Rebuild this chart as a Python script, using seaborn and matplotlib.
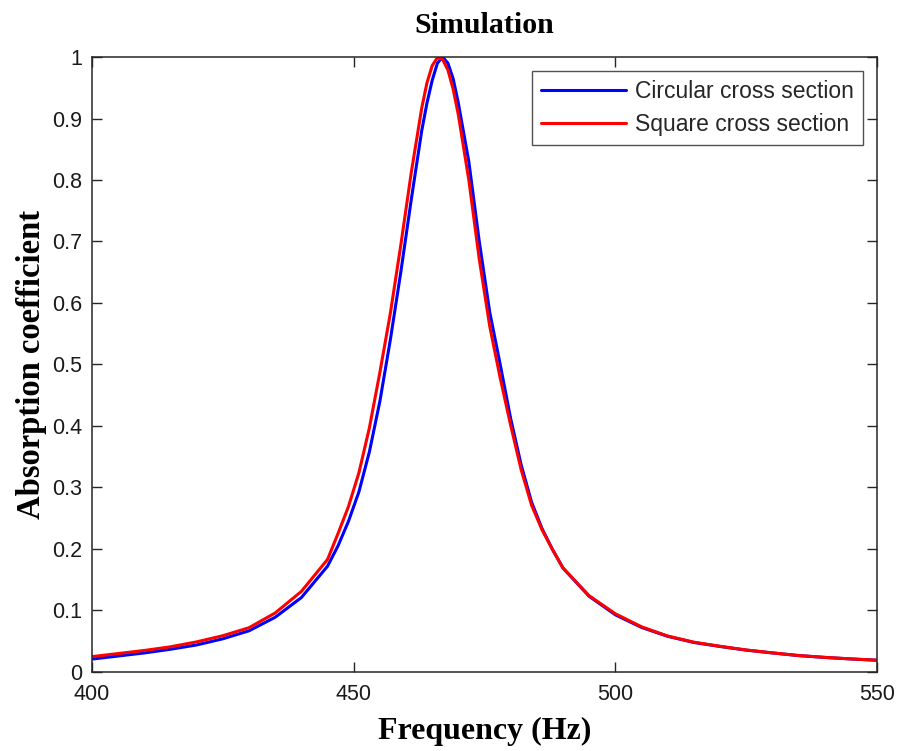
import matplotlib
matplotlib.use("Agg")
import matplotlib.pyplot as plt
import seaborn as sns
import pandas as pd
from matplotlib.ticker import FixedLocator, FixedFormatter

# Frequency samples (Hz): coarse in the tails, finer around the resonance
freq = [400, 405, 410, 415, 420, 425, 430, 435, 440, 445,
        447, 449, 451, 453, 455, 457, 459, 461, 463, 464,
        465, 466, 467, 468, 469, 470, 472, 474, 476, 478,
        480, 482, 484, 486, 488, 490, 495, 500, 505, 510,
        515, 520, 525, 530, 535, 540, 545, 550]

circular = [0.021, 0.026, 0.031, 0.037, 0.044, 0.054, 0.067, 0.089, 0.121, 0.172,
            0.205, 0.245, 0.293, 0.358, 0.440, 0.540, 0.650, 0.768, 0.880, 0.925,
            0.962, 0.990, 1.000, 0.990, 0.965, 0.925, 0.830, 0.700, 0.585, 0.500,
            0.412, 0.337, 0.276, 0.233, 0.199, 0.169, 0.123, 0.093, 0.0725, 0.058,
            0.048, 0.0415, 0.0356, 0.031, 0.0267, 0.0237, 0.0212, 0.0191]

square = [0.025, 0.030, 0.035, 0.041, 0.049, 0.059, 0.072, 0.096, 0.131, 0.183,
          0.225, 0.269, 0.324, 0.397, 0.487, 0.583, 0.694, 0.812, 0.917, 0.958,
          0.986, 0.999, 0.996, 0.979, 0.948, 0.906, 0.800, 0.671, 0.562, 0.478,
          0.401, 0.329, 0.271, 0.231, 0.199, 0.169, 0.124, 0.0947, 0.0735, 0.0585,
          0.0485, 0.0418, 0.0358, 0.0311, 0.0268, 0.0238, 0.0213, 0.0192]

series_names = ["Circular cross section", "Square cross section"]
series_colors = ["#0000ff", "#ff0000"]

x_ticks = [400, 450, 500, 550]
x_tick_labels = ["400", "450", "500", "550"]
y_ticks = [0, 0.1, 0.2, 0.3, 0.4, 0.5, 0.6, 0.7, 0.8, 0.9, 1.0]
y_tick_labels = ["0", "0.1", "0.2", "0.3", "0.4", "0.5", "0.6", "0.7", "0.8", "0.9", "1"]

df = pd.concat([
    pd.DataFrame({"Frequency": freq, "Absorption": circular, "Section": series_names[0]}),
    pd.DataFrame({"Frequency": freq, "Absorption": square, "Section": series_names[1]}),
], ignore_index=True)

sns.set_theme(style="ticks")
plt.rcParams["font.family"] = ["Liberation Sans", "DejaVu Sans"]

fig = plt.figure(figsize=(8.97, 7.51), dpi=100)
ax = fig.add_axes([0.1026, 0.1052, 0.8751, 0.8189])

sns.lineplot(data=df, x="Frequency", y="Absorption", hue="Section",
             hue_order=series_names, palette=dict(zip(series_names, series_colors)),
             linewidth=2.2, ax=ax, sort=False)

ax.set_xlim(400, 550)
ax.set_ylim(0, 1)
ax.xaxis.set_major_locator(FixedLocator(x_ticks))
ax.xaxis.set_major_formatter(FixedFormatter(x_tick_labels))
ax.yaxis.set_major_locator(FixedLocator(y_ticks))
ax.yaxis.set_major_formatter(FixedFormatter(y_tick_labels))

ax.tick_params(direction="in", length=7.5, width=1, colors="#262626",
               labelsize=15.5, top=True, right=True)
ax.tick_params(axis="x", pad=9)
ax.tick_params(axis="y", pad=7)
for lbl in ax.get_xticklabels() + ax.get_yticklabels():
    lbl.set_color("#1a1a1a")
for side in ["top", "right", "bottom", "left"]:
    ax.spines[side].set_visible(True)
    ax.spines[side].set_linewidth(1.1)
    ax.spines[side].set_color("#262626")

serif = ["Liberation Serif", "DejaVu Serif"]
ax.set_title("Simulation", family=serif, fontsize=21.5, fontweight="bold",
             color="black", pad=17)
ax.set_xlabel("Frequency (Hz)", family=serif, fontsize=23, fontweight="bold",
              color="black", labelpad=8)
ax.set_ylabel("Absorption coefficient", family=serif, fontsize=23.5,
              fontweight="bold", color="black", labelpad=4)

leg = ax.legend(loc="upper right", fontsize=16.5, frameon=True, fancybox=False,
                edgecolor="#262626", handlelength=3.7, handletextpad=0.4,
                borderaxespad=0.6, labelspacing=0.45, borderpad=0.4)
leg.get_frame().set_linewidth(1.0)
for line in leg.get_lines():
    line.set_linewidth(2.2)

fig.savefig("out.png", dpi=100, facecolor="white")
